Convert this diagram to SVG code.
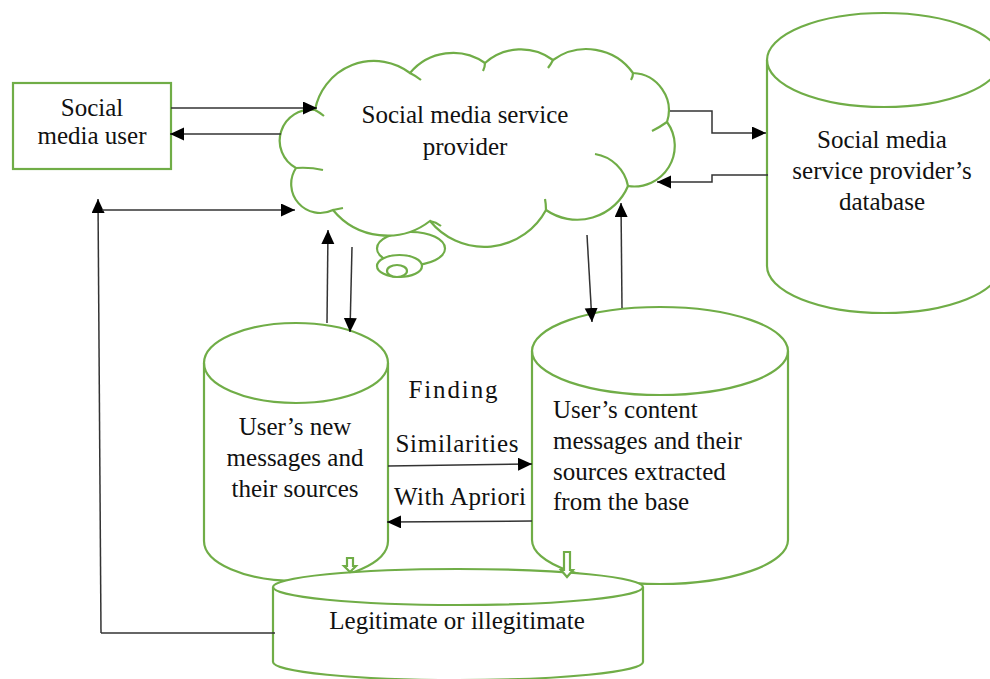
<svg xmlns="http://www.w3.org/2000/svg" width="990" height="679" viewBox="0 0 990 679">
<style>
.shape{fill:#fff;stroke:#70AD47;stroke-width:2.2}
.open{fill:none;stroke:#70AD47;stroke-width:2.2}
.t{font-family:"Liberation Serif","Times New Roman",serif;font-size:25px;fill:#111}
.c{text-anchor:middle}
.conn{fill:none;stroke:#333;stroke-width:1.5}
</style>
<defs>
<marker id="ah" markerUnits="userSpaceOnUse" markerWidth="15" markerHeight="14" refX="14" refY="6.5" orient="auto">
<path d="M0,0 L14,6.5 L0,13 z" fill="#000"/>
</marker>
</defs>
<rect width="990" height="679" fill="#fff"/>

<g id="user">
<rect class="shape" x="13" y="83" width="158" height="86"/>
<text class="t c" x="92" y="116">Social</text>
<text class="t c" x="92" y="144">media user</text>
</g>

<g id="cloud">
<ellipse class="shape" cx="411" cy="248.5" rx="34" ry="16.5"/>
<ellipse class="shape" cx="399.5" cy="266" rx="22.5" ry="11"/>
<ellipse class="shape" cx="397" cy="271" rx="10" ry="6"/>
<path class="shape" d="M315,110 A60,60 0 0 1 410,73 A56,56 0 0 1 485,63 A54,54 0 0 1 553,60 A57,57 0 0 1 633,73 A37.5,37.5 0 0 1 667,122 A40.6,40.6 0 0 1 628,186 A55,55 0 0 1 546,210 A70,70 0 0 1 430,221 A70,70 0 0 1 333,210 A29,29 0 0 1 296,168 A31,31 0 0 1 315,110 Z"/>
<path class="open" d="M315,110 Q319,112 324,116 M410,73 Q416,76 421,80 M485,63 Q485,67 483,71 M553,60 Q551,64 548,68 M633,73 Q633,77 631,80 M667,122 Q660,127 652,131 M595,154 A40,40 0 0 1 628,186 M546,210 Q546,204 545,199 M430,221 Q436,222 441,226 M333,210 Q338,209 343,208 M296,168 Q310,167 323,170"/>
<text class="t c" x="465" y="123">Social media service</text>
<text class="t c" x="465" y="155">provider</text>
</g>

<g id="provider-db">
<path class="shape" d="M767,60 A117,47 0 0 1 1001,60 V266 A117,47 0 0 1 767,266 Z"/>
<path class="open" d="M767,60 A117,47 0 0 0 1001,60"/>
<text class="t c" x="882" y="148">Social media</text>
<text class="t c" x="882" y="179">service provider’s</text>
<text class="t c" x="882" y="210">database</text>
</g>

<g id="new-messages">
<path class="shape" d="M204,363 A92,40 0 0 1 388,363 V541 A92,40 0 0 1 204,541 Z"/>
<path class="open" d="M204,363 A92,40 0 0 0 388,363"/>
<text class="t c" x="295" y="435">User’s new</text>
<text class="t c" x="295" y="466">messages and</text>
<text class="t c" x="295" y="497">their sources</text>
</g>

<g id="content-messages">
<path class="shape" d="M532,351 A128,44 0 0 1 788,351 V540 A128,44 0 0 1 532,540 Z"/>
<path class="open" d="M532,351 A128,44 0 0 0 788,351"/>
<text class="t" x="553" y="418">User’s content</text>
<text class="t" x="553" y="449">messages and their</text>
<text class="t" x="553" y="480">sources extracted</text>
<text class="t" x="553" y="510">from the base</text>
</g>

<g id="result">
<path class="shape" d="M273,587 A185,18 0 0 1 643,587 V662 A185,18 0 0 1 273,662 Z"/>
<path class="open" d="M273,587 A185,18 0 0 0 643,587"/>
<text class="t c" x="457" y="629">Legitimate or illegitimate</text>
</g>

<g id="block-arrows">
<path class="shape" stroke-width="1.8" d="M347,558 h6 v8 h3 l-6,6 l-6,-6 h3 z"/>
<path class="shape" stroke-width="1.8" d="M564,552 h6 v18 h3 l-6,7 l-6,-7 h3 z"/>
</g>

<g id="labels">
<text class="t c" x="453" y="398" textLength="89" lengthAdjust="spacing">Finding</text>
<text class="t c" x="457" y="452" textLength="123" lengthAdjust="spacing">Similarities</text>
<text class="t c" x="460" y="505" textLength="132" lengthAdjust="spacing">With Apriori</text>
</g>

<g id="connectors">
<path class="conn" marker-end="url(#ah)" d="M171,108 H317"/>
<path class="conn" marker-end="url(#ah)" d="M281,134 H170"/>
<path class="conn" d="M275,633 H101"/>
<path class="conn" marker-end="url(#ah)" d="M101,633 L98,199"/>
<path class="conn" marker-end="url(#ah)" d="M102,210 H295"/>
<path class="conn" marker-end="url(#ah)" d="M670,111 H712 V133 H766"/>
<path class="conn" marker-end="url(#ah)" d="M768,175 H712 V182 H657"/>
<path class="conn" marker-end="url(#ah)" d="M327,323 L328,230"/>
<path class="conn" marker-end="url(#ah)" d="M352,247 L350,332"/>
<path class="conn" marker-end="url(#ah)" d="M587,235 L592,322"/>
<path class="conn" marker-end="url(#ah)" d="M622,308 L621,203"/>
<path class="conn" marker-end="url(#ah)" d="M388,466 L532,464"/>
<path class="conn" marker-end="url(#ah)" d="M532,521 L387,522"/>
</g>
</svg>
